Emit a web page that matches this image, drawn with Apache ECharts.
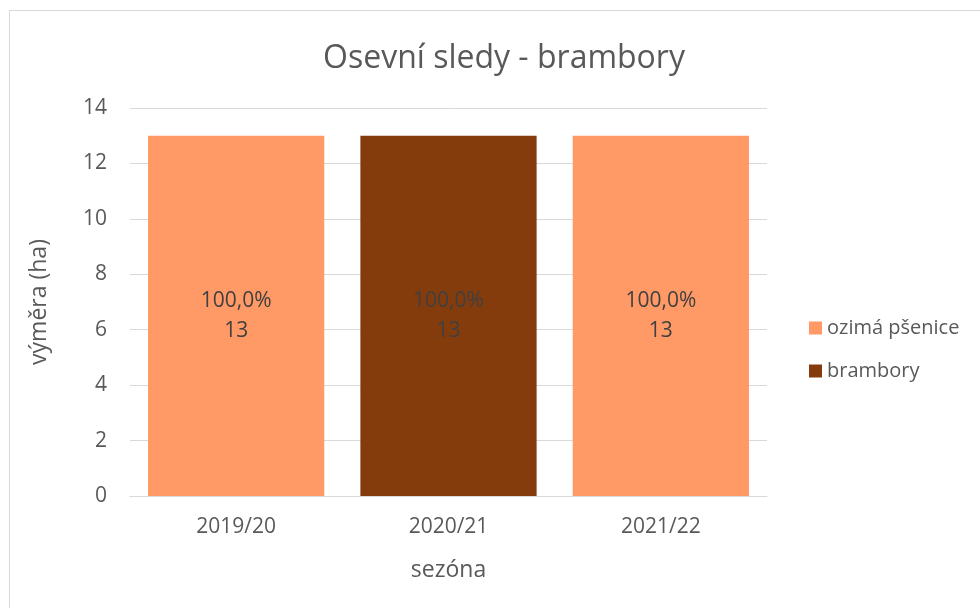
<!DOCTYPE html>
<html><head><meta charset="utf-8">
<script src="https://cdn.jsdelivr.net/npm/echarts@6/dist/echarts.min.js"></script>
<style>html,body{margin:0;padding:0;background:#fff}#c{width:980px;height:608px}
#frame{position:absolute;left:9px;top:10px;width:980px;height:620px;border:1px solid #d9d9d9;box-sizing:border-box;pointer-events:none}</style>
</head><body><div id="c"></div><div id="frame"></div>
<script>
const categories = ['2019/20', '2020/21', '2021/22'];
const seriesNames = ['ozimá pšenice', 'brambory'];
const wheat = [13, 0, 13];
const potatoes = [0, 13, 0];
const yTicks = {min: 0, max: 14, interval: 2};
const colors = ['#FF9966', '#843C0C'];
const allData = [wheat, potatoes];
const totals = categories.map((_, i) => allData.reduce((s, a) => s + a[i], 0));
const font = '"Open Sans", "Noto Sans", sans-serif';
const chart = echarts.init(document.getElementById('c'));
chart.setOption({
  animation: false,
  title: {text: 'Osevní sledy - brambory', left: 499, textAlign: 'center', top: 38,
    textStyle: {fontFamily: font, fontSize: 32, fontWeight: 'normal', color: '#595959'}},
  grid: {left: 130, right: 213, top: 108, bottom: 112},
  legend: {orient: 'vertical', left: 804, top: 313, itemWidth: 13, itemHeight: 13, itemGap: 23,
    icon: 'rect', textStyle: {fontFamily: font, fontSize: 20, color: '#595959', padding: [0,0,0,0]}},
  xAxis: {type: 'category', data: categories, name: 'sezóna', nameLocation: 'middle', nameGap: 63,
    nameTextStyle: {fontFamily: font, fontSize: 23, color: '#595959'},
    axisLine: {lineStyle: {color: '#d9d9d9'}}, axisTick: {show: false},
    axisLabel: {fontFamily: font, fontSize: 21, color: '#595959', margin: 21}},
  yAxis: {type: 'value', min: yTicks.min, max: yTicks.max, interval: yTicks.interval,
    name: 'výměra (ha)', nameLocation: 'middle', nameGap: 79, nameRotate: 90,
    nameTextStyle: {fontFamily: font, fontSize: 23, color: '#595959'},
    splitLine: {lineStyle: {color: '#d9d9d9'}}, axisLine: {show: false},
    axisLabel: {fontFamily: font, fontSize: 21, color: '#595959', margin: 23}},
  series: seriesNames.map((n, k) => ({
    name: n, type: 'bar', stack: 'a', data: allData[k], barCategoryGap: '17%',
    itemStyle: {color: colors[k]},
    label: {show: true, position: 'inside', fontFamily: font, fontSize: 21, color: '#404040', lineHeight: 30,
      formatter: p => p.value ? (p.value / totals[p.dataIndex] * 100).toFixed(1).replace('.', ',') + '%\n' + p.value : ''}
  }))
});
</script></body></html>
